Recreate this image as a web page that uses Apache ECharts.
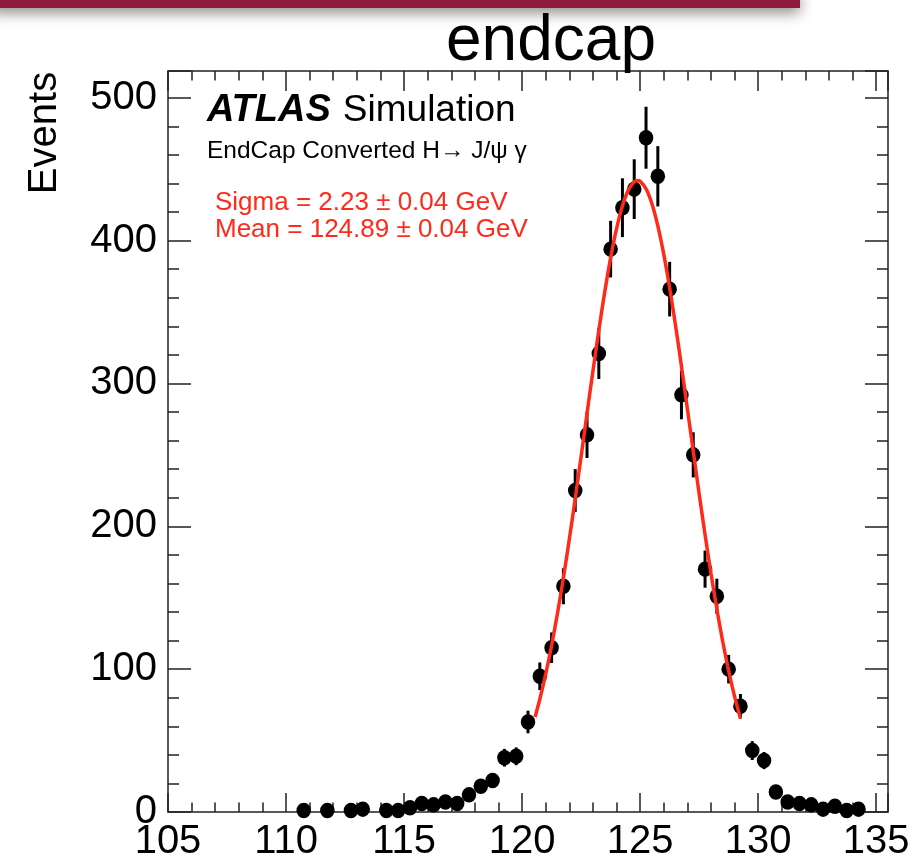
<!DOCTYPE html>
<html>
<head>
<meta charset="utf-8">
<script src="https://cdn.jsdelivr.net/npm/echarts@6/dist/echarts.min.js"></script>
<style>
html,body{margin:0;padding:0;background:#fff;}
#chart{width:916px;height:862px;}
</style>
</head>
<body>
<div id="chart"></div>
<script>
// ---- data ----
const binCenters = [110.75, 111.75, 112.75, 113.25, 114.25, 114.75, 115.25, 115.75, 116.25, 116.75,
  117.25, 117.75, 118.25, 118.75, 119.25, 119.75, 120.25, 120.75, 121.25, 121.75,
  122.25, 122.75, 123.25, 123.75, 124.25, 124.75, 125.25, 125.75, 126.25, 126.75,
  127.25, 127.75, 128.25, 128.75, 129.25, 129.75, 130.25, 130.75, 131.25, 131.75,
  132.25, 132.75, 133.25, 133.75, 134.25];
const events = [1, 1, 1, 2, 1, 1, 3, 6, 5, 7,
  6, 12, 18, 22, 38, 39, 63, 95, 115, 158,
  225, 264, 321, 394, 423, 436, 472, 445, 366, 292,
  250, 170, 151, 100, 74, 43, 36, 14, 7, 6,
  5, 2, 4, 1, 2];
const errors = [1, 1, 1, 1.4, 1, 1, 1.7, 2.4, 2.2, 2.6,
  2.4, 3.5, 4.2, 4.7, 6.2, 6.2, 7.9, 9.7, 10.7, 12.6,
  15, 16.2, 17.9, 19.8, 20.6, 20.9, 21.7, 21.1, 19.1, 17.1,
  15.8, 13, 12.3, 10, 8.6, 6.6, 6, 3.7, 2.6, 2.4,
  2.2, 1.4, 2, 1, 1.4];
// fitted curve
const fitX = [120.55, 120.75, 121.0, 121.25, 121.5, 121.75, 122.0, 122.25, 122.5, 122.75,
  123.0, 123.25, 123.5, 123.75, 124.0, 124.25, 124.5, 124.75, 124.89, 125.0,
  125.25, 125.5, 125.75, 126.0, 126.25, 126.5, 126.75, 127.0, 127.25, 127.5,
  127.75, 128.0, 128.25, 128.5, 128.75, 129.0, 129.25];
const fitY = [66.5, 78.9, 96.5, 116.6, 139.2, 164.0, 190.9, 219.3, 248.9, 278.9,
  308.6, 337.3, 363.9, 387.9, 408.2, 424.2, 435.3, 441.1, 442.0, 441.5,
  436.3, 425.8, 410.3, 390.5, 367.0, 340.6, 312.1, 282.5, 252.5, 222.8,
  194.2, 167.1, 142.1, 119.2, 98.8, 80.9, 65.4];
const xMin = 105, xMax = 135.5, xMajor = 5, xMinor = 1;
const yMin = 0, yMax = 518.7, yMajor = 100, yMinor = 20;
const titleText = 'endcap';
const yTitle = 'Events';
const atlasLabel = 'ATLAS';
const atlasSub = 'Simulation';
const channelText = 'EndCap Converted H\u2192 J/\u03c8 \u03b3';
const sigmaText = 'Sigma = 2.23 \u00b1 0.04 GeV';
const meanText = 'Mean = 124.89 \u00b1 0.04 GeV';

const FONT = '"Liberation Sans", Arial, Helvetica, sans-serif';
const frameColor = '#222';
const red = '#ff2a1a';

function xAxisDef(pos, interval, tickLen, showLine, showLabel) {
  return {
    type: 'value', position: pos, min: xMin, max: xMax, interval: interval,
    axisLine: {show: showLine, onZero: false, lineStyle: {color: frameColor, width: 1.5}},
    axisTick: {show: true, inside: true, length: tickLen, lineStyle: {color: frameColor, width: 1.5}},
    axisLabel: {show: showLabel, color: '#000', fontSize: 40, fontFamily: FONT, margin: 10,
      formatter: function (v) { return (Math.abs(v % xMajor) < 1e-9) ? String(v) : ''; }},
    splitLine: {show: false}
  };
}
function yAxisDef(pos, interval, tickLen, showLine, showLabel) {
  return {
    type: 'value', position: pos, min: yMin, max: yMax, interval: interval,
    axisLine: {show: showLine, onZero: false, lineStyle: {color: frameColor, width: 1.5}},
    axisTick: {show: true, inside: true, length: tickLen, lineStyle: {color: frameColor, width: 1.5}},
    axisLabel: {show: showLabel, color: '#000', fontSize: 40, fontFamily: FONT, margin: 11,
      formatter: function (v) { return (Math.abs(v % yMajor) < 1e-9) ? String(v) : ''; }},
    splitLine: {show: false}
  };
}

const chart = echarts.init(document.getElementById('chart'), null, {renderer: 'canvas'});
const option = {
  animation: false,
  backgroundColor: '#fff',
  grid: {left: 168, right: 28, top: 71, bottom: 48, containLabel: false},
  xAxis: [
    xAxisDef('bottom', xMinor, 9.5, true, true),
    xAxisDef('bottom', xMajor, 19, false, false),
    xAxisDef('top', xMinor, 9.5, true, false),
    xAxisDef('top', xMajor, 20, false, false)
  ],
  yAxis: [
    yAxisDef('left', yMinor, 11, true, true),
    yAxisDef('left', yMajor, 23, false, false),
    yAxisDef('right', yMinor, 11, true, false),
    yAxisDef('right', yMajor, 23, false, false)
  ],
  series: [
    {
      type: 'custom', xAxisIndex: 0, yAxisIndex: 0, z: 2,
      data: binCenters.map((x, i) => [x, events[i], errors[i]]),
      renderItem: function (params, api) {
        const x = api.value(0), y = api.value(1), e = api.value(2);
        const p1 = api.coord([x, y + e]);
        const p2 = api.coord([x, y - e]);
        return {type: 'line', shape: {x1: p1[0], y1: p1[1], x2: p2[0], y2: p2[1]},
          style: {stroke: '#000', lineWidth: 3}};
      }
    },
    {
      type: 'scatter', xAxisIndex: 0, yAxisIndex: 0, z: 3,
      symbol: 'circle', symbolSize: [14.5, 15.5],
      itemStyle: {color: '#000', opacity: 1},
      data: binCenters.map((x, i) => [x, events[i]])
    },
    {
      type: 'line', xAxisIndex: 0, yAxisIndex: 0, z: 4,
      smooth: 0.3, showSymbol: false, symbol: 'none',
      lineStyle: {color: red, width: 3.5},
      data: fitX.map((x, i) => [x, fitY[i]])
    }
  ],
  graphic: [
    {type: 'rect', z: 10, shape: {x: -10, y: -10, width: 810, height: 18},
      style: {fill: '#8e1b3e', shadowBlur: 14, shadowColor: 'rgba(0,0,0,0.45)', shadowOffsetY: 5}},
    {type: 'text', x: 551, y: 42, z: 10,
      style: {text: titleText, font: '64px ' + FONT, fill: '#000', textAlign: 'center', textVerticalAlign: 'middle'}},
    {type: 'text', x: 45, y: 133, rotation: Math.PI / 2, z: 10,
      style: {text: yTitle, font: '40px ' + FONT, fill: '#000', textAlign: 'center', textVerticalAlign: 'middle'}},
    {type: 'text', x: 207, y: 110.5, z: 10,
      style: {text: '{a|' + atlasLabel + '}{b|' + atlasSub + '}', textAlign: 'left', textVerticalAlign: 'middle',
        rich: {a: {fontFamily: FONT, fontSize: 38, fontWeight: 'bold', fontStyle: 'italic', fill: '#000'},
               b: {fontFamily: FONT, fontSize: 37, fill: '#000', padding: [0, 0, 0, 12]}}}},
    {type: 'text', x: 207, y: 151.7, z: 10,
      style: {text: channelText, font: '24.5px ' + FONT, fill: '#000', textAlign: 'left', textVerticalAlign: 'middle'}},
    {type: 'text', x: 215, y: 203, z: 10,
      style: {text: sigmaText, font: '26px ' + FONT, fill: red, textAlign: 'left', textVerticalAlign: 'middle'}},
    {type: 'text', x: 215, y: 229.7, z: 10,
      style: {text: meanText, font: '26px ' + FONT, fill: red, textAlign: 'left', textVerticalAlign: 'middle'}}
  ]
};
chart.setOption(option);
</script>
</body>
</html>
